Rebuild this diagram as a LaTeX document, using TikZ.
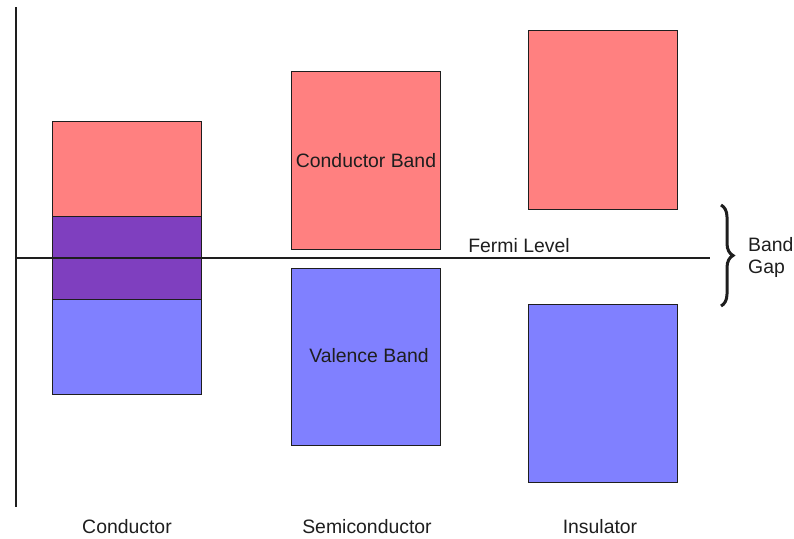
\documentclass[tikz,border=0pt]{standalone}
\usepackage{fontspec}
\setmainfont{Liberation Sans}
\usetikzlibrary{decorations.pathreplacing}
\definecolor{cband}{RGB}{255,128,128}
\definecolor{vband}{RGB}{128,128,255}
\definecolor{overlap}{RGB}{127,63,191}
\definecolor{ink}{RGB}{30,30,30}
\begin{document}
\begin{tikzpicture}[x=1pt,y=-1pt,
  band/.style={draw=ink,line width=1.3pt,inner sep=0pt,anchor=north west},
  lbl/.style={font=\fontsize{19.4}{22}\selectfont,text=ink,inner sep=0pt}]
\useasboundingbox (0,0) rectangle (794,538);
% energy axis and Fermi level
\coordinate (axtop) at (16,7);
\coordinate (axbot) at (16,507);
\coordinate (fl) at (16,258);
\coordinate (fr) at (710,258);
\draw[ink,line width=2pt] (axtop) -- (axbot);
% conductor: overlapping bands
\node[band,fill=cband,minimum width=149pt,minimum height=95pt] (cc) at (52,121) {};
\node[band,fill=overlap,minimum width=149pt,minimum height=83pt] (co) at (52,216) {};
\node[band,fill=vband,minimum width=149pt,minimum height=95pt] (cv) at (52,299) {};
% semiconductor
\node[band,fill=cband,minimum width=149pt,minimum height=178pt] (sc) at (291,71) {};
\node[band,fill=vband,minimum width=149pt,minimum height=177pt] (sv) at (291,268) {};
% insulator
\node[band,fill=cband,minimum width=149pt,minimum height=179pt] (ic) at (528,30) {};
\node[band,fill=vband,minimum width=149pt,minimum height=178pt] (iv) at (528,304) {};
\draw[ink,line width=1.8pt] (fl) -- (fr);
% labels
\node[lbl] (tcb) at (366,161) {Conductor Band};
\node[lbl] (tvb) at (369,356) {Valence Band};
\node[lbl] (tfl) at (519,246) {Fermi Level};
\node[lbl] (t1) at (127,527) {Conductor};
\node[lbl] (t2) at (367,527) {Semiconductor};
\node[lbl] (t3) at (600,527) {Insulator};
% band gap brace
\coordinate (bt) at (721,205);
\coordinate (bb) at (721,306);
\draw[ink,line width=3pt,decorate,decoration={brace,amplitude=12pt}] (bt) -- (bb);
\node[lbl,anchor=west,align=left] (tbg) at (748,257) {Band\\Gap};
\end{tikzpicture}
\end{document}
